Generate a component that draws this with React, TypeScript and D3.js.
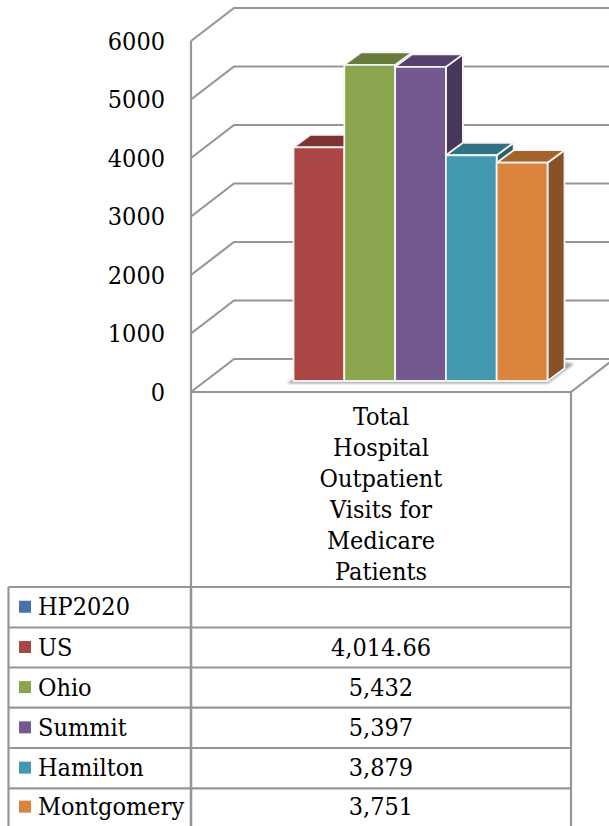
import React from "react";
import * as d3 from "d3";

const W = 609, H = 826;
const ticks = [0, 1000, 2000, 3000, 4000, 5000, 6000];
const categoryLines = ["Total", "Hospital", "Outpatient", "Visits for", "Medicare", "Patients"];
const seriesNames = ["HP2020", "US", "Ohio", "Summit", "Hamilton", "Montgomery"];
const seriesValues: (number | null)[] = [null, 4014.66, 5432, 5397, 3879, 3751];
const seriesLabels = ["", "4,014.66", "5,432", "5,397", "3,879", "3,751"];
const frontColors = ["#4674aa", "#aa4643", "#89a54e", "#745890", "#4198af", "#db843d"];
const topColors = ["#35587f", "#803432", "#677b3a", "#56416c", "#307183", "#a4622d"];
const sideColors = ["#2c4a6b", "#6b2c2a", "#566732", "#48375a", "#285f6e", "#895226"];
const rowEdges = [587, 627.5, 667.5, 707.7, 748, 788.3, 826];

const font = "'DejaVu Serif Condensed','DejaVu Serif',serif";
const fs = 25;
const grid = "#969696";
const frontX = 191, frontRight = 571, dx = 43, dy = -33;
const y = d3.scaleLinear().domain([0, 6000]).range([392, 41]);
const barY = d3.scaleLinear().domain([0, 6000]).range([381, 31.8]);
const barX = d3.scaleBand().domain(seriesNames.slice(1)).range([293.5, 547.5]);
const bdx = 17, bdy = -12.5;
const line = d3.line();
const poly = (p: [number, number][]) => line(p) + "Z";

export default function App() {
  return (
    <svg width={W} height={H} style={{ position: "absolute", left: 0, top: 0, background: "#fff" }}>
      <defs>
        <filter id="blur" x="-10%" y="-100%" width="120%" height="300%">
          <feGaussianBlur stdDeviation="1.2" />
        </filter>
      </defs>
      <g fill="none" stroke={grid} strokeWidth={2.2}>
        {ticks.map((t) => (
          <path key={t} d={`M${frontX},${y(t)}L${frontX + dx},${y(t) + dy}L${W + 5},${y(t) + dy}`} />
        ))}
        <path d={`M${frontX},${y(6000)}V${rowEdges[0]}`} />
        <path d={`M${frontX},${y(0)}H${frontRight}L${frontRight + dx},${y(0) + dy}`} />
        <path d={`M${frontRight},${y(0)}V${H}`} />
        <path d={`M8.5,${rowEdges[0]}V${H}`} />
        <path d={`M${frontX},${rowEdges[0]}V${H}`} strokeWidth={2.6} />
        {rowEdges.slice(0, 6).map((e) => (
          <path key={e} d={`M8.5,${e}H${frontRight}`} />
        ))}
      </g>
      <path
        d={poly([[287, 383.5], [548, 383.5], [574, 364], [564, 362], [545, 379], [293, 379]])}
        fill="#a8a8a8"
        filter="url(#blur)"
      />
      {ticks.map((t) => (
        <text key={t} x={165} y={y(t) + 8.5} textAnchor="end" fontFamily={font} fontSize={fs} fill="#000">
          {t}
        </text>
      ))}
      {seriesNames.slice(1).map((n, k) => {
        const i = k + 1;
        const x0 = barX(n)!;
        const x1 = x0 + barX.bandwidth();
        const yt = barY(seriesValues[i]!);
        const yb = barY(0);
        return (
          <g key={n} stroke="#f4f4f4" strokeWidth={1.8} strokeLinejoin="round">
            <path d={poly([[x1, yt], [x1 + bdx, yt + bdy], [x1 + bdx, yb + bdy], [x1, yb]])} fill={sideColors[i]} />
            <path d={poly([[x0, yt], [x0 + bdx, yt + bdy], [x1 + bdx, yt + bdy], [x1, yt]])} fill={topColors[i]} />
            <rect x={x0} y={yt} width={x1 - x0} height={yb - yt} fill={frontColors[i]} />
          </g>
        );
      })}
      {categoryLines.map((l, i) => (
        <text key={l} x={381} y={425 + i * 31} textAnchor="middle" fontFamily={font} fontSize={fs} fill="#000">
          {l}
        </text>
      ))}
      {seriesNames.map((n, i) => {
        const mid = (rowEdges[i] + rowEdges[i + 1]) / 2;
        return (
          <g key={n}>
            <rect x={19} y={mid - 6.5} width={12} height={12} fill={frontColors[i]} />
            <text x={38} y={mid + 8} fontFamily={font} fontSize={fs} fill="#000">{n}</text>
            <text x={381} y={mid + 8} textAnchor="middle" fontFamily={font} fontSize={fs} fill="#000">
              {seriesLabels[i]}
            </text>
          </g>
        );
      })}
    </svg>
  );
}
